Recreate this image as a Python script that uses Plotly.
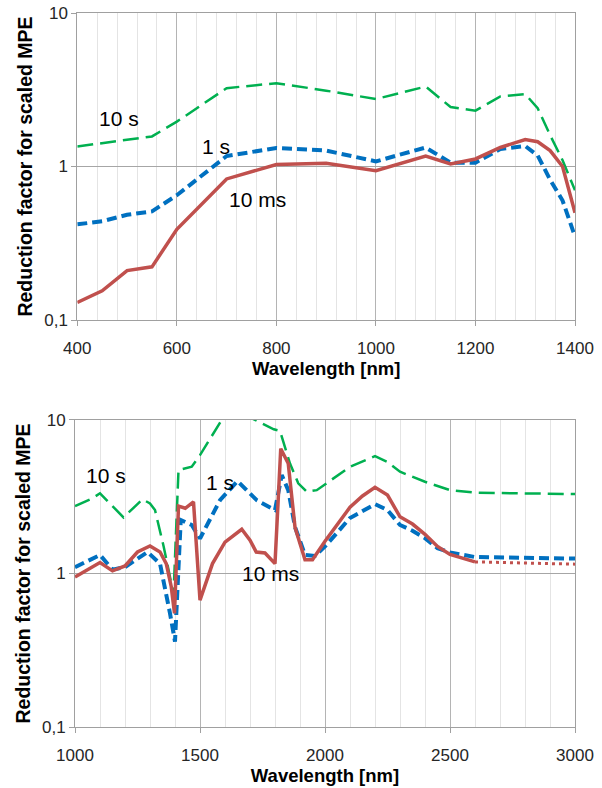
import numpy as np
import plotly.graph_objects as go
from plotly.subplots import make_subplots

# --- top chart: 400-1400 nm ---
wl_top = [400, 450, 500, 550, 600, 700, 800, 900, 1000, 1100, 1150, 1200, 1250, 1300, 1325, 1350, 1375, 1400]
top_10ms = [0.13, 0.155, 0.21, 0.222, 0.39, 0.83, 1.03, 1.05, 0.94, 1.17, 1.04, 1.12, 1.33, 1.5, 1.45, 1.27, 1.0, 0.5]
top_1s = [0.42, 0.44, 0.485, 0.51, 0.65, 1.17, 1.32, 1.27, 1.08, 1.33, 1.06, 1.06, 1.30, 1.36, 1.18, 0.82, 0.6, 0.35]
top_10s = [1.35, 1.42, 1.49, 1.57, 1.96, 3.24, 3.49, 3.12, 2.75, 3.32, 2.44, 2.31, 2.86, 2.96, 2.4, 1.6, 1.1, 0.7]

# --- bottom chart: 1000-3000 nm ---
wl_bot_10ms = [1000, 1100, 1150, 1200, 1250, 1300, 1340, 1365, 1385, 1398, 1414, 1441, 1474, 1500,
               1550, 1600, 1667, 1700, 1725, 1760, 1800, 1823, 1853, 1880, 1920, 1950, 2000,
               2100, 2150, 2200, 2250, 2300, 2350, 2400, 2450, 2500, 2600]
bot_10ms = [0.95, 1.18, 1.04, 1.12, 1.38, 1.51, 1.38, 1.16, 0.82, 0.55, 2.75, 2.66, 2.93, 0.67,
            1.16, 1.6, 1.94, 1.65, 1.38, 1.36, 1.16, 6.5, 5.2, 2.0, 1.23, 1.23, 1.62,
            2.7, 3.2, 3.64, 3.24, 2.34, 2.10, 1.8, 1.5, 1.33, 1.19]
wl_bot_10ms_ext = [2600, 3000]
bot_10ms_ext = [1.19, 1.15]

wl_bot_1s = [1000, 1100, 1150, 1200, 1290, 1340, 1380, 1400, 1423, 1467, 1500, 1580, 1650, 1700,
             1727, 1800, 1827, 1853, 1880, 1920, 1960, 2000, 2100, 2200, 2250, 2300, 2350, 2400,
             2450, 2500, 2600, 3000]
bot_1s = [1.10, 1.32, 1.06, 1.10, 1.38, 1.16, 0.55, 0.36, 2.23, 2.07, 1.69, 3.0, 4.0, 3.3,
          3.0, 2.59, 4.38, 3.49, 2.01, 1.32, 1.30, 1.5, 2.3, 2.83, 2.59, 2.07, 1.90, 1.7,
          1.46, 1.37, 1.28, 1.25]

wl_bot_10s = [1000, 1070, 1100, 1194, 1270, 1300, 1320, 1355, 1380, 1394, 1414, 1467, 1500, 1590,
              1650, 1710, 1795, 1820, 1860, 1893, 1927, 1967, 2100, 2200, 2250, 2300, 2400, 2500,
              2600, 3000]
bot_10s = [2.75, 3.09, 3.33, 2.32, 3.04, 2.86, 2.59, 1.49, 0.95, 0.72, 4.72, 4.96, 5.9, 10.2,
           12.0, 10.2, 8.7, 8.5, 5.2, 3.87, 3.41, 3.49, 4.96, 5.82, 5.33, 4.6, 3.96, 3.49,
           3.36, 3.29]

# label positions (wavelength, value)
lbl_text = ["10 s", "1 s", "10 ms"]
lbl_top_x = [484, 678, 763]
lbl_top_y = [2.05, 1.36, 0.607]
lbl_bot_x = [1125, 1580, 1780]
lbl_bot_y = [4.38, 3.91, 1.0]

RED = "#c0504d"
BLUE = "#0070c0"
GREEN = "#00b050"
FONT = "Liberation Sans"

fig = make_subplots(rows=2, cols=1, vertical_spacing=0.14)

def add_set(row, x1, y1, x2, y2, x3, y3):
    fig.add_trace(go.Scatter(x=x3, y=y3, mode="lines",
                             line=dict(color=GREEN, width=2.5, dash="16px,7px")), row=row, col=1)
    fig.add_trace(go.Scatter(x=x2, y=y2, mode="lines",
                             line=dict(color=BLUE, width=4, dash="10px,5px")), row=row, col=1)
    fig.add_trace(go.Scatter(x=x1, y=y1, mode="lines",
                             line=dict(color=RED, width=3.5)), row=row, col=1)

add_set(1, wl_top, top_10ms, wl_top, top_1s, wl_top, top_10s)
add_set(2, wl_bot_10ms, bot_10ms, wl_bot_1s, bot_1s, wl_bot_10s, bot_10s)
fig.add_trace(go.Scatter(x=wl_bot_10ms_ext, y=bot_10ms_ext, mode="lines",
                         line=dict(color=RED, width=3, dash="3px,4px")), row=2, col=1)

xcommon = dict(showline=True, linecolor="#a0a0a0", mirror=True, ticks="outside", ticklen=5,
               tickcolor="#a0a0a0", showgrid=True, gridcolor="#b4b4b4", gridwidth=1,
               zeroline=False, automargin=False, ticklabelstandoff=8, ticklabeloverflow="allow",
               tickfont=dict(family=FONT, size=17, color="#262626"),
               title=dict(text="<b>Wavelength [nm]</b>", font=dict(family=FONT, size=18.5, color="#000"),
                          standoff=1))
ycommon = dict(type="log", range=[-1, 1], tickvals=[0.1, 1, 10], ticktext=["0,1", "1", "10"],
               showline=True, linecolor="#a0a0a0", mirror=True, ticks="outside", ticklen=5,
               tickcolor="#a0a0a0", showgrid=True, gridcolor="#a6a6a6", zeroline=False,
               automargin=False, ticklabeloverflow="allow",
               tickfont=dict(family=FONT, size=17, color="#262626"),
               title=dict(text="<b>Reduction factor for scaled MPE</b>",
                          font=dict(family=FONT, size=19.5, color="#000"), standoff=6))

fig.update_xaxes(**xcommon)
fig.update_yaxes(**ycommon)
fig.update_xaxes(range=[400, 1400], tick0=400, dtick=200, domain=[0.0046, 1],
                 minor=dict(tick0=400, dtick=40, showgrid=True, gridcolor="#e4e4e4", ticks=""),
                 row=1, col=1)
fig.update_xaxes(range=[1000, 3000], tick0=1000, dtick=500, domain=[0, 1],
                 minor=dict(tick0=1000, dtick=100, showgrid=True, gridcolor="#e4e4e4", ticks=""),
                 row=2, col=1)
fig.update_yaxes(domain=[0.570, 1], row=1, col=1)
fig.update_yaxes(domain=[0, 0.43], row=2, col=1)

for t, x, y in zip(lbl_text, lbl_top_x, lbl_top_y):
    fig.add_annotation(x=x, y=np.log10(y), xref="x", yref="y", text=t, showarrow=False,
                       font=dict(family=FONT, size=21, color="#000"))
for t, x, y in zip(lbl_text, lbl_bot_x, lbl_bot_y):
    fig.add_annotation(x=x, y=np.log10(y), xref="x2", yref="y2", text=t, showarrow=False,
                       font=dict(family=FONT, size=21, color="#000"))

fig.update_layout(width=602, height=788, showlegend=False,
                  margin=dict(l=75, r=27, t=13, b=61),
                  paper_bgcolor="white", plot_bgcolor="white")

# drop the browser's default 8px body margin so the figure sits at the page corner
fig.write_html("out.html", config={"displayModeBar": False},
               post_script="document.body.style.margin='0';")
